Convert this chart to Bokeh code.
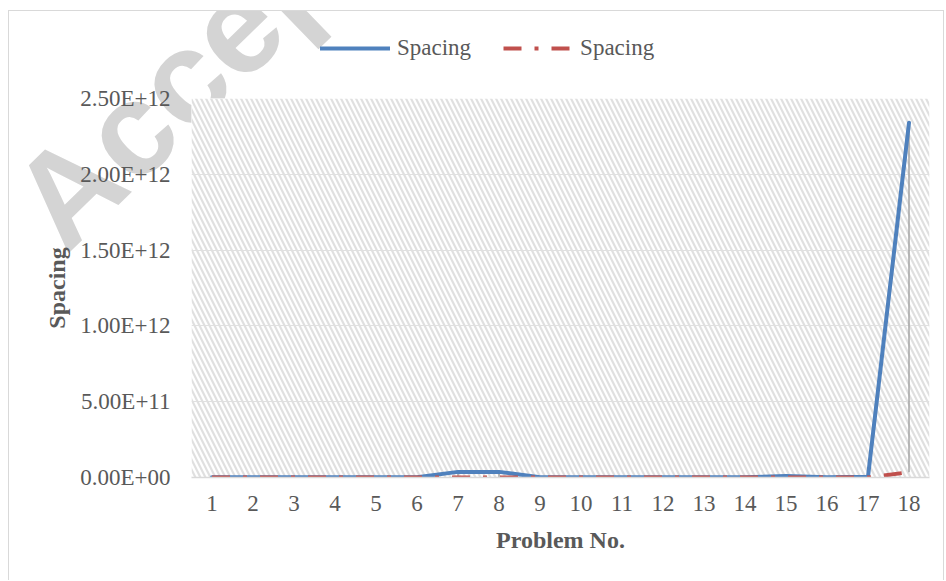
from bokeh.plotting import figure
from bokeh.layouts import column
from bokeh.models import (Range1d, FixedTicker, BoxAnnotation, Legend, LegendItem, Label)
from bokeh.embed import file_html
from bokeh.resources import INLINE

# ---- data ----
problems = list(range(1, 19))
x_labels = [str(i) for i in problems]
spacing_a = [1e9, 1e9, 1e9, 1e9, 1e9, 2e9, 3.7e10, 3.7e10, 1e9, 1e9, 1e9, 1e9, 1e9, 1e9,
             1.0e10, 2e9, 5e9, 2.34e12]
spacing_b = [0, 0, 0, 0, 0, 0, 0, 0, 0, 0, 0, 0, 0, 0, 0, 0, 0, 3.5e10]
y_ticks = [0, 5e11, 1e12, 1.5e12, 2e12, 2.5e12]
y_labels = ["0.00E+00", "5.00E+11", "1.00E+12", "1.50E+12", "2.00E+12", "2.50E+12"]
series_names = ["Spacing", "Spacing"]
x_title = "Problem No."
y_title = "Spacing"
watermark = "Accepted Manuscript"

FONT = "Liberation Serif"
TXT = "#595959"
BLUE = "#4f81bd"
RED = "#c0504d"
BORDER = "1px solid #d9d9d9"
RED_DASH = "18 13 4 13"

p = figure(width=936, height=570, output_backend="svg", toolbar_location=None,
           x_range=Range1d(0.5, 18.5), y_range=Range1d(0, 2.5e12),
           min_border_left=182, min_border_right=16, min_border_top=87, min_border_bottom=104,
           outline_line_color=None, border_fill_alpha=0, frame_align=False,
           styles={"border-top": BORDER, "border-left": BORDER, "border-right": BORDER,
                   "position": "relative", "z-index": "1"})

# hatched plot area
bg = BoxAnnotation(fill_color="white", fill_alpha=1.0, line_alpha=0,
                   hatch_pattern="\\", hatch_color="#e0e0e0", hatch_scale=10, hatch_weight=2.2,
                   level="image")
p.add_layout(bg)

# high-low lines
p.segment(x0=problems, y0=spacing_b, x1=problems, y1=spacing_a, line_color="#a6a6a6", line_width=1.5)

r1 = p.line(problems, spacing_a, line_color=BLUE, line_width=4, line_join="round", line_cap="round")
r2 = p.line(problems, spacing_b, line_color=RED, line_width=4, line_dash=RED_DASH, line_cap="butt")

# axes
p.xaxis.ticker = FixedTicker(ticks=problems)
p.xaxis.major_label_overrides = {float(k): v for k, v in zip(problems, x_labels)}
p.yaxis.ticker = FixedTicker(ticks=y_ticks)
p.yaxis.major_label_overrides = {float(k): v for k, v in zip(y_ticks, y_labels)}
for ax in (p.xaxis[0], p.yaxis[0]):
    ax.major_tick_line_color = None
    ax.minor_tick_line_color = None
    ax.major_tick_out = 0
    ax.major_tick_in = 0
    ax.minor_tick_out = 0
    ax.major_label_text_font = FONT
    ax.major_label_text_font_size = "23px"
    ax.major_label_text_color = TXT
    ax.axis_label_text_font = FONT
    ax.axis_label_text_font_size = "24px"
    ax.axis_label_text_font_style = "bold"
    ax.axis_label_text_color = TXT
p.xaxis.axis_line_color = "#d9d9d9"
p.xaxis.axis_line_width = 1.5
p.yaxis.axis_line_color = None
p.xaxis.major_label_standoff = 18
p.yaxis.major_label_standoff = 21
p.xaxis.axis_label = x_title
p.yaxis.axis_label = y_title
p.xaxis.axis_label_standoff = 13
p.yaxis.axis_label_standoff = 7

p.xgrid.grid_line_color = None
p.ygrid.grid_line_color = "#e0e0e0"
p.ygrid.grid_line_width = 1
p.ygrid.ticker = FixedTicker(ticks=y_ticks)

# background layer holding the watermark and legend (behind the transparent chart border)
wmfig = figure(width=938, height=571, output_backend="svg", toolbar_location=None,
               x_range=Range1d(0, 938), y_range=Range1d(571, 0),
               x_axis_type=None, y_axis_type=None, min_border=0, frame_align=False,
               outline_line_color=None, background_fill_color="white", border_fill_color="white",
               styles={"position": "absolute", "left": "0px", "top": "0px", "z-index": "0"})
wmfig.xgrid.visible = False
wmfig.ygrid.visible = False
wm = Label(x=26, y=213, text=watermark, angle=0.77,
           text_font="Liberation Sans", text_font_style="bold",
           text_font_size="132px", text_color="#d4d4d4",
           text_align="left", text_baseline="alphabetic")
wmfig.add_layout(wm)

# legend keys (single off-canvas point: nothing is drawn in the plot itself)
k1 = wmfig.line([-500], [-500], line_color=BLUE, line_width=4, line_cap="round")
k2 = wmfig.line([-500], [-500], line_color=RED, line_width=4, line_dash=RED_DASH, line_cap="butt")
legend = Legend(items=[LegendItem(label=series_names[0], renderers=[k1]),
                       LegendItem(label=series_names[1], renderers=[k2])],
                orientation="horizontal", location=(312, 519),
                glyph_width=70, glyph_height=20, label_height=20, label_standoff=7, spacing=32,
                padding=0, margin=0, border_line_alpha=0, background_fill_alpha=0,
                label_text_font=FONT, label_text_font_size="23px", label_text_color=TXT)
wmfig.add_layout(legend)

layout = column(wmfig, p, styles={"position": "relative", "margin-left": "8px", "margin-top": "10px"})

open("out.html", "w").write(file_html(layout, INLINE))
